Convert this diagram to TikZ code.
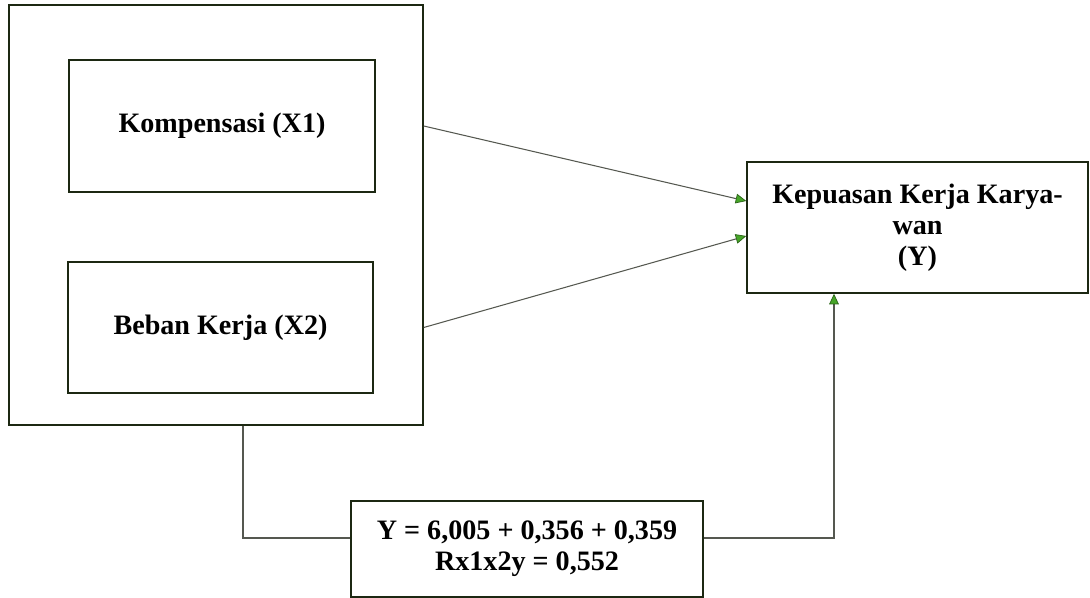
\documentclass[tikz,border=0pt]{standalone}
\usepackage{fontspec}
\setmainfont{Liberation Serif}
\usetikzlibrary{arrows.meta}
\definecolor{garis}{RGB}{28,40,18}
\definecolor{hijau}{RGB}{70,165,40}
\definecolor{abu}{RGB}{85,88,80}

\begin{document}
\begin{tikzpicture}[x=0.02cm, y=-0.02cm,
    kotak/.style={draw=garis, line width=0.9pt, align=center, inner sep=0pt,
      font=\bfseries\fontsize{16}{17.5}\selectfont},
    hubung/.style={draw=abu, line width=0.6pt},
    panah/.style={hubung, -{Triangle[length=6pt, width=5.5pt, fill=hijau, color=hijau!60!black, line width=0.4pt]}}]
        \useasboundingbox (0,0) rectangle (1090,598);

        % Draw independent variables inside the outer frame
        \node[kotak, minimum width=8.28cm, minimum height=8.40cm] (luar) at (216,215) {};
        \node[kotak, minimum width=6.12cm, minimum height=2.64cm] (komp) at (222,126) {Kompensasi (X1)};
        \node[kotak, minimum width=6.10cm, minimum height=2.62cm] (beban) at (220.5,327.5) {Beban Kerja (X2)};

        % Dependent variable
        \node[kotak, minimum width=6.82cm, minimum height=2.62cm] (kpy) at (917.5,227.5)
          {Kepuasan Kerja Karya-\\wan\\(Y)};

        % Regression result
        \node[kotak, minimum width=7.04cm, minimum height=1.92cm] (rumus) at (527,549)
          {Y = 6,005 + 0,356 + 0,359\\Rx1x2y = 0,552};

        % Arrows X1, X2 -> Y
        \draw[panah] (luar.east |- komp.east) -- ([yshift=0.53cm]kpy.west);
        \draw[panah] (luar.east |- beban.east) -- ([yshift=-0.17cm]kpy.west);

        % Path through the regression box
        \coordinate (kiri) at (243,538);
        \coordinate (kanan) at (834,538);
        \draw[hubung] (kiri |- luar.south) -- (kiri) -- (kiri -| rumus.west);
        \draw[panah] (kanan -| rumus.east) -- (kanan) -- (kanan |- kpy.south);
\end{tikzpicture}
\end{document}
